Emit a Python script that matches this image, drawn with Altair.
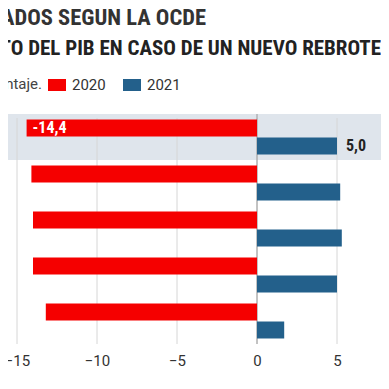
import altair as alt
import pandas as pd

countries = ["España", "Francia", "Italia", "Reino Unido", "Portugal"]
values_2020 = [-14.4, -14.1, -14.0, -14.0, -13.2]
values_2021 = [5.0, 5.2, 5.3, 5.0, 1.7]
years = ["2020", "2021"]
highlight = "España"
x_ticks = [-15, -10, -5, 0, 5]

TITLE = "LOS PAÍSES MÁS CASTIGADOS SEGÚN LA OCDE"
SUBTITLE = "RETROCESO Y CRECIMIENTO DEL PIB EN CASO DE UN NUEVO REBROTE"
NOTE = "En porcentaje."

RED = "#f50000"
BLUE = "#23608b"
COND = "Roboto Condensed, Liberation Sans Narrow, DejaVu Sans Condensed, Roboto"

rows = []
for c, a, b in zip(countries, values_2020, values_2021):
    rows.append({"pais": c, "anio": "2020", "valor": a})
    rows.append({"pais": c, "anio": "2021", "valor": b})
df = pd.DataFrame(rows)
df["etiqueta"] = df["valor"].map(lambda v: f"{v:.1f}".replace(".", ","))

xscale = alt.Scale(domain=[-15.5625, 7.75], nice=False, zero=False)
yscale = alt.Scale(domain=countries, paddingInner=0, paddingOuter=0)
offscale = alt.Scale(paddingInner=0.056, paddingOuter=0.306)

band = alt.Chart(pd.DataFrame({"pais": [highlight]})).mark_rect(
    color="#dfe5ec", clip=False
).encode(
    y=alt.Y("pais:N", scale=yscale, axis=None),
    x=alt.value(-10),
    x2=alt.value(381),
)

grid = alt.Chart(pd.DataFrame({"v": x_ticks})).mark_rule(
    color="#d6d6d6", strokeWidth=1
).encode(
    x=alt.X("v:Q", scale=xscale,
            axis=alt.Axis(values=x_ticks, title=None, domain=False, ticks=False,
                          grid=False, labelFontSize=15, labelColor="#333333",
                          labelFont="Roboto", labelPadding=9, format="d")),
    y=alt.value(4),
    y2=alt.value(230),
)

zero = alt.Chart(pd.DataFrame({"v": [0]})).mark_rule(
    color="#9a9a9a", strokeWidth=1
).encode(
    x=alt.X("v:Q", scale=xscale),
    y=alt.value(0),
    y2=alt.value(230),
)

bars = alt.Chart(df).mark_bar().encode(
    x=alt.X("valor:Q", scale=xscale),
    y=alt.Y("pais:N", scale=yscale, axis=None),
    yOffset=alt.YOffset("anio:N", scale=offscale),
    color=alt.Color(
        "anio:N",
        scale=alt.Scale(domain=years, range=[RED, BLUE]),
        legend=alt.Legend(
            title=None, orient="none", legendX=40, legendY=-38,
            direction="horizontal",
            symbolType="M-1,-0.667H1V0.667H-1Z", symbolSize=324,
            symbolStrokeWidth=0, symbolOpacity=1,
            labelFontSize=15, labelColor="#333333", labelFont="Roboto",
            labelOffset=6, columnPadding=17,
        ),
    ),
)

lab20 = alt.Chart(df).transform_filter(
    (alt.datum.pais == highlight) & (alt.datum.anio == "2020")
).mark_text(align="left", baseline="middle", dx=6, color="white",
            fontWeight="bold", fontSize=16, font=COND).encode(
    x=alt.X("valor:Q", scale=xscale),
    y=alt.Y("pais:N", scale=yscale, axis=None),
    yOffset=alt.YOffset("anio:N", scale=offscale),
    text="etiqueta:N",
)

lab21 = alt.Chart(df).transform_filter(
    (alt.datum.pais == highlight) & (alt.datum.anio == "2021")
).mark_text(align="left", baseline="middle", dx=9, color="#222222",
            fontWeight="bold", fontSize=16, font=COND).encode(
    x=alt.X("valor:Q", scale=xscale),
    y=alt.Y("pais:N", scale=yscale, axis=None),
    yOffset=alt.YOffset("anio:N", scale=offscale),
    text="etiqueta:N",
)

title = alt.Chart(pd.DataFrame({"t": [TITLE]})).mark_text(
    align="right", baseline="alphabetic", fontSize=22.5, fontWeight="bold",
    color="#333333", font=COND
).encode(text="t:N", x=alt.value(198), y=alt.value(-89))

subtitle = alt.Chart(pd.DataFrame({"t": [SUBTITLE]})).mark_text(
    align="right", baseline="alphabetic", fontSize=21, fontWeight="bold",
    color="#222222", font=COND
).encode(text="t:N", x=alt.value(373), y=alt.value(-59))

note = alt.Chart(pd.DataFrame({"t": [NOTE]})).mark_text(
    align="right", baseline="alphabetic", fontSize=15,
    color="#444444", font="Roboto"
).encode(text="t:N", x=alt.value(34), y=alt.value(-25))

chart = alt.layer(band, grid, zero, bars, lab20, lab21, title, subtitle, note).properties(
    width=373, height=230,
    autosize=alt.AutoSizeParams(type="none"),
    padding={"left": 0, "top": 106, "right": 0, "bottom": 30},
).configure_view(stroke=None)

chart.save("out.html", embed_options={"renderer": "svg", "actions": False})
